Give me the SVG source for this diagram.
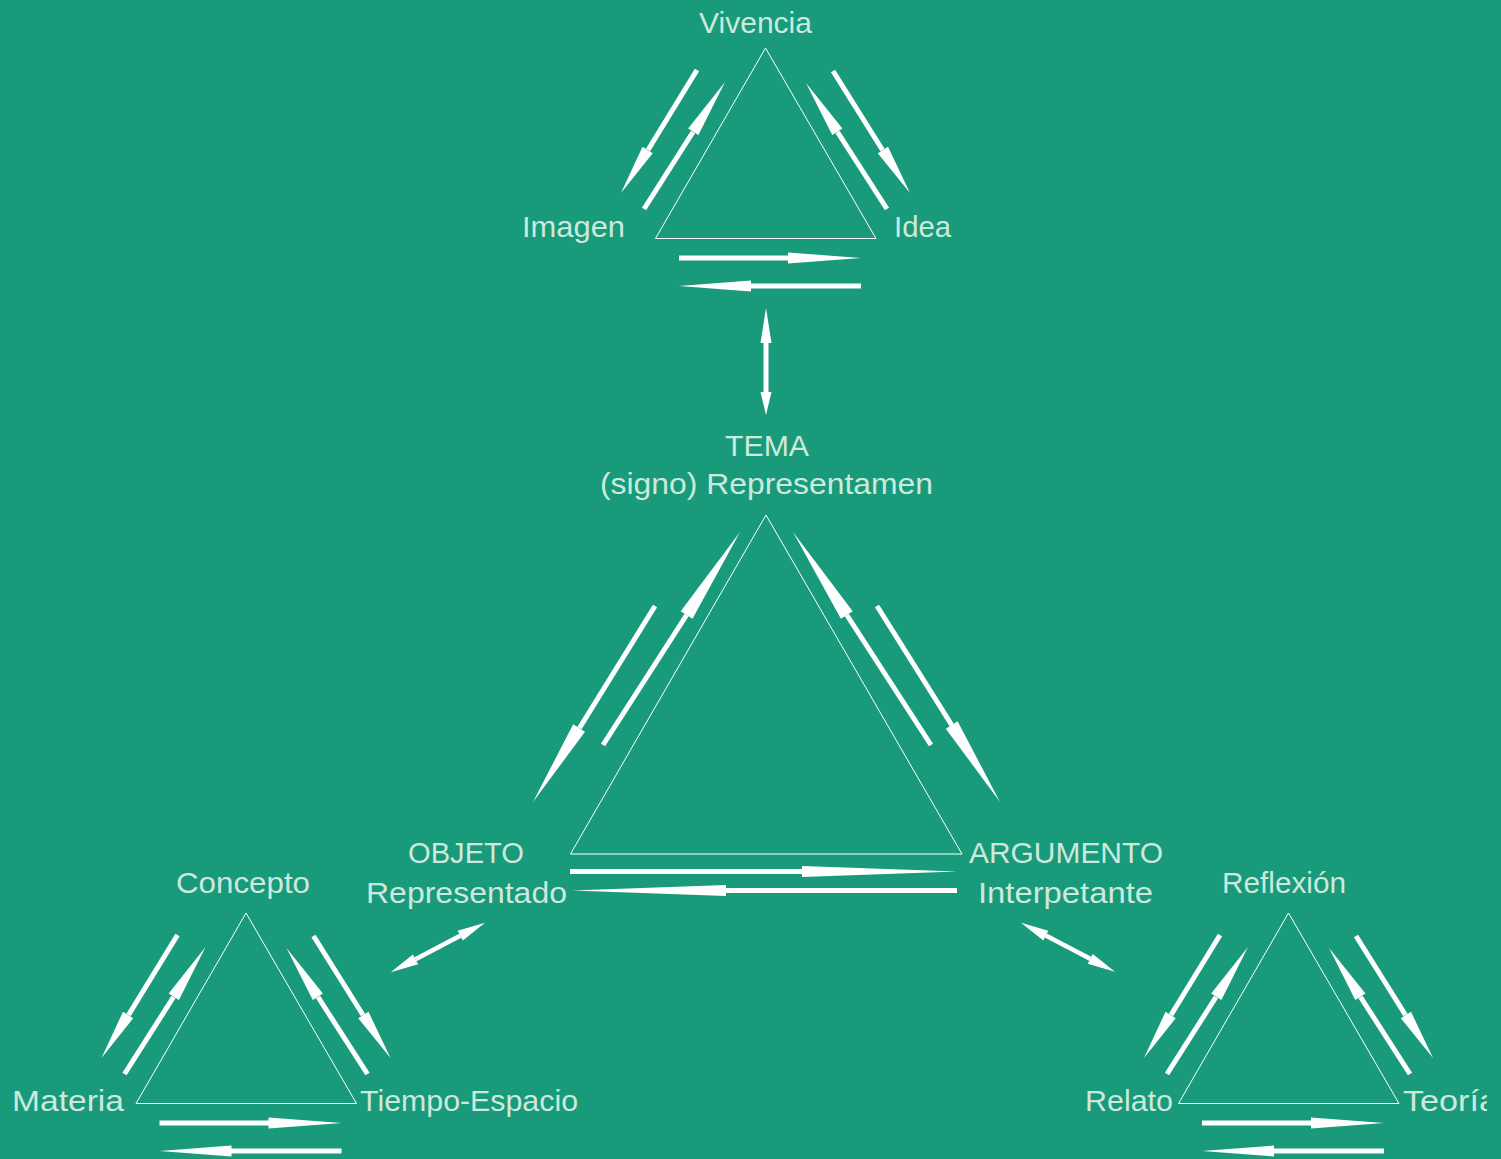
<svg xmlns="http://www.w3.org/2000/svg" xmlns:xlink="http://www.w3.org/1999/xlink" width="1501" height="1159" viewBox="0 0 1501 1159">
<style>
.bg{fill:#199a7b}
.tri{fill:none;stroke:#ffffff;stroke-width:1}
.shaft{stroke:#ffffff;stroke-width:5;fill:none}
.head{fill:#ffffff;stroke:none}
.lbl{font-family:"Liberation Sans",Arial,sans-serif;font-size:30px;fill:#cde9dc}
.c{text-anchor:middle}
.e{text-anchor:end}
</style>
<defs>
<clipPath id="clipR"><rect x="0" y="0" width="1487" height="1159"/></clipPath>
<g id="smallTri">
<polygon class="tri" points="765.5,48 655.5,238.5 876,238.5"/>
<line class="shaft" x1="697" y1="70" x2="648" y2="150"/>
<polygon class="head" points="642.5,146.8 652.7,153.2 621,193"/>
<line class="shaft" x1="644" y1="209" x2="693" y2="132"/>
<polygon class="head" points="698.4,134.9 688.2,128.5 725,82"/>
<line class="shaft" x1="887" y1="209" x2="837.5" y2="132"/>
<polygon class="head" points="842.4,128.5 832.3,135 806,83"/>
<line class="shaft" x1="833" y1="71" x2="882.5" y2="150"/>
<polygon class="head" points="877.8,153.2 888,146.8 910,193"/>
<line class="shaft" x1="679" y1="258" x2="790" y2="258"/>
<polygon class="head" points="788,252.5 788,263.5 861,258"/>
<line class="shaft" x1="861" y1="286" x2="749" y2="286"/>
<polygon class="head" points="751,280.5 751,291.5 679,286"/>
</g>
</defs>
<rect class="bg" x="0" y="0" width="1501" height="1159"/>

<g id="triangle-vivencia"><use xlink:href="#smallTri"/></g>
<g id="triangle-reflexion"><use xlink:href="#smallTri" transform="translate(523,865)"/></g>
<g id="triangle-concepto"><use xlink:href="#smallTri" transform="translate(-519.5,865)"/></g>

<g id="triangle-tema">
<polygon class="tri" points="766,515 570.5,854 962,854"/>
</g>

<g id="connectors">
<line class="shaft" x1="766" y1="340" x2="766" y2="395"/>
<polygon class="head" points="760.5,343 771.5,343 766,308"/>
<polygon class="head" points="760.5,392 771.5,392 766,415"/>

<line class="shaft" x1="655" y1="606" x2="579.5" y2="728"/>
<polygon class="head" points="573.2,724.3 585,731.7 533,802"/>
<line class="shaft" x1="603" y1="745" x2="686.6" y2="615"/>
<polygon class="head" points="692.5,618.8 680.7,611.2 740,532"/>
<line class="shaft" x1="931" y1="745" x2="846.8" y2="615"/>
<polygon class="head" points="852.7,611.2 840.9,618.8 793,532"/>
<line class="shaft" x1="877" y1="606" x2="951.7" y2="725"/>
<polygon class="head" points="945.8,728.7 957.6,721.3 1000,802"/>
<line class="shaft" x1="570" y1="871.5" x2="804" y2="871.5"/>
<polygon class="head" points="802,866 802,877 957,871.5"/>
<line class="shaft" x1="957" y1="890.5" x2="724" y2="890.5"/>
<polygon class="head" points="726,885 726,896 572,890.5"/>

<line class="shaft" x1="460.2" y1="935.7" x2="415.5" y2="959.3" style="stroke-width:4.5"/>
<polygon class="head" points="462.8,940.6 457.6,930.8 485,922.7"/>
<polygon class="head" points="418.1,964.2 412.9,954.4 390.7,972.3"/>
<line class="shaft" x1="1045.8" y1="935.6" x2="1090.2" y2="958.8" style="stroke-width:4.5"/>
<polygon class="head" points="1043.3,940.5 1048.3,930.7 1021,922.7"/>
<polygon class="head" points="1087.7,963.7 1092.7,953.9 1115,971.7"/>
</g>

<g id="node-vivencia"><text class="lbl c" x="755.5" y="33" textLength="113" lengthAdjust="spacingAndGlyphs">Vivencia</text></g>
<g id="node-imagen"><text class="lbl" x="522" y="237" textLength="103" lengthAdjust="spacingAndGlyphs">Imagen</text></g>
<g id="node-idea"><text class="lbl" x="894" y="237" textLength="57" lengthAdjust="spacingAndGlyphs">Idea</text></g>
<g id="node-tema">
<text class="lbl" x="725" y="456" textLength="84" lengthAdjust="spacingAndGlyphs">TEMA</text>
<text class="lbl" x="600" y="494" textLength="333" lengthAdjust="spacingAndGlyphs">(signo) Representamen</text>
</g>
<g id="node-objeto">
<text class="lbl" x="408" y="863" textLength="116" lengthAdjust="spacingAndGlyphs">OBJETO</text>
<text class="lbl" x="366" y="903" textLength="201" lengthAdjust="spacingAndGlyphs">Representado</text>
</g>
<g id="node-argumento">
<text class="lbl" x="969" y="863" textLength="194" lengthAdjust="spacingAndGlyphs">ARGUMENTO</text>
<text class="lbl" x="978" y="903" textLength="175" lengthAdjust="spacingAndGlyphs">Interpetante</text>
</g>
<g id="node-concepto"><text class="lbl" x="176" y="893" textLength="134" lengthAdjust="spacingAndGlyphs">Concepto</text></g>
<g id="node-materia"><text class="lbl" x="12" y="1111" textLength="112" lengthAdjust="spacingAndGlyphs">Materia</text></g>
<g id="node-tiempo"><text class="lbl" x="360" y="1111" textLength="218" lengthAdjust="spacingAndGlyphs">Tiempo-Espacio</text></g>
<g id="node-reflexion"><text class="lbl" x="1222" y="893" textLength="124" lengthAdjust="spacingAndGlyphs">Reflexión</text></g>
<g id="node-relato"><text class="lbl" x="1085" y="1111" textLength="88" lengthAdjust="spacingAndGlyphs">Relato</text></g>
<g id="node-teoria" clip-path="url(#clipR)"><text class="lbl" x="1403" y="1111" textLength="95" lengthAdjust="spacingAndGlyphs">Teoría</text></g>
</svg>
